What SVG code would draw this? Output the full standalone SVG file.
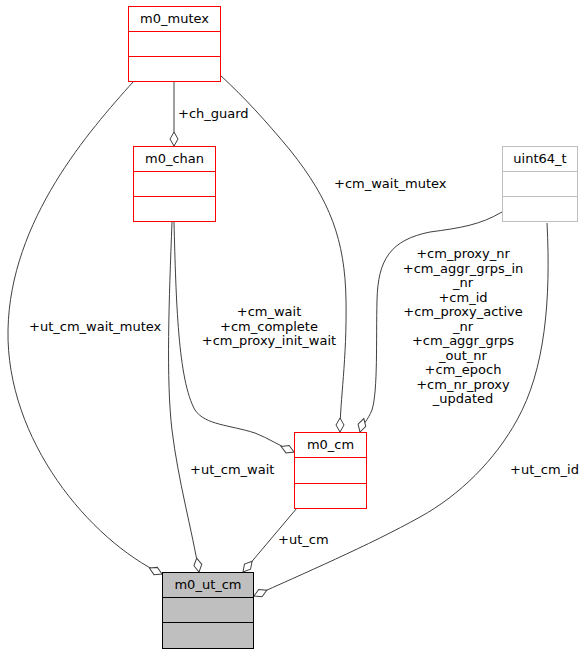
<svg xmlns="http://www.w3.org/2000/svg" width="585" height="655" viewBox="0 0 585 655">
<style>
text{font-family:"DejaVu Sans","Liberation Sans",sans-serif;font-size:13px;fill:#000}
.t{text-anchor:middle}
.box{fill:#fff;stroke:#ff0000;stroke-width:1}
.gbox{fill:#fff;stroke:#bfbfbf;stroke-width:1}
.main{fill:#bfbfbf;stroke:#000;stroke-width:1}
.e{fill:none;stroke:#404040;stroke-width:1;marker-end:url(#dia)}
</style>
<defs>
<marker id="dia" markerUnits="userSpaceOnUse" viewBox="-1 -5 16 10" markerWidth="16" markerHeight="10" refX="14" refY="0" orient="auto" overflow="visible">
<path d="M0,0 L7,-4 L14,0 L7,4 Z" fill="#fff" stroke="#404040" stroke-width="1"/>
</marker>
</defs>
<g id="connectors">
<path class="e" d="M133,82 C90,130 10,220 8,330 C6,440 90,540 162,574"/>
<path class="e" d="M174,81 L174,146"/>
<path class="e" d="M220,75 C245,98 265,120 290,150 C330,200 345,240 346,300 C347,360 340,400 340,432"/>
<path class="e" d="M172,222 C169,300 166,380 172,430 C178,480 192,530 199,572"/>
<path class="e" d="M174,222 C176,300 178,380 195,410 C205,425 230,425 255,433 C268,438 280,446 294,452"/>
<path class="e" d="M502,212 C480,225 460,228 430,232 C390,240 378,260 377,300 C376,340 378,390 372,410 C368,420 362,425 360,432"/>
<path class="e" d="M547,223 C551,300 545,370 517,420 C495,460 460,495 420,517 C370,545 300,575 254,596"/>
<path class="e" d="M297,508 L243,572"/>
<text x="178" y="118">+ch_guard</text>
<text x="334" y="188">+cm_wait_mutex</text>
<text x="29" y="331">+ut_cm_wait_mutex</text>
<text class="t" x="269" y="316">+cm_wait</text>
<text class="t" x="269" y="331">+cm_complete</text>
<text class="t" x="269" y="345">+cm_proxy_init_wait</text>
<text class="t" x="463" y="258">+cm_proxy_nr</text>
<text class="t" x="463" y="272.5">+cm_aggr_grps_in</text>
<text class="t" x="463" y="287">_nr</text>
<text class="t" x="463" y="301.5">+cm_id</text>
<text class="t" x="463" y="316">+cm_proxy_active</text>
<text class="t" x="463" y="330.5">_nr</text>
<text class="t" x="463" y="345">+cm_aggr_grps</text>
<text class="t" x="463" y="359.5">_out_nr</text>
<text class="t" x="463" y="374">+cm_epoch</text>
<text class="t" x="463" y="388.5">+cm_nr_proxy</text>
<text class="t" x="463" y="403">_updated</text>
<text x="190" y="474">+ut_cm_wait</text>
<text x="278" y="544">+ut_cm</text>
<text x="510" y="474">+ut_cm_id</text>
</g>
<g id="m0_mutex">
<rect class="box" x="128.5" y="6.5" width="92" height="75"/>
<path d="M128.5,31.5 H220.5 M128.5,56.5 H220.5" stroke="#ff0000"/>
<text class="t" x="174.5" y="23">m0_mutex</text>
</g>
<g id="m0_chan">
<rect class="box" x="133.5" y="146.5" width="82" height="75"/>
<path d="M133.5,171.5 H215.5 M133.5,196.5 H215.5" stroke="#ff0000"/>
<text class="t" x="174.5" y="163">m0_chan</text>
</g>
<g id="uint64_t">
<rect class="gbox" x="502.5" y="146.5" width="75" height="75"/>
<path d="M502.5,171.5 H577.5 M502.5,196.5 H577.5" stroke="#bfbfbf"/>
<text class="t" x="540" y="163">uint64_t</text>
</g>
<g id="m0_cm">
<rect class="box" x="294.5" y="432.5" width="72" height="76"/>
<path d="M294.5,457.5 H366.5 M294.5,483.5 H366.5" stroke="#ff0000"/>
<text class="t" x="330.5" y="449">m0_cm</text>
</g>
<g id="m0_ut_cm">
<rect class="main" x="162.5" y="572.5" width="91" height="76"/>
<path d="M162.5,597.5 H253.5 M162.5,622.5 H253.5" stroke="#000"/>
<text class="t" x="208" y="589">m0_ut_cm</text>
</g>
</svg>
